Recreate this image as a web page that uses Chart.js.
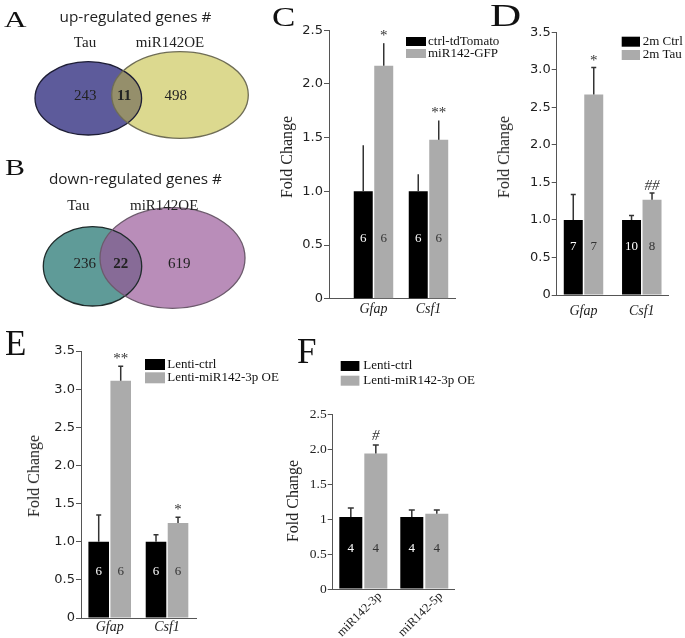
<!DOCTYPE html>
<html>
<head>
<meta charset="utf-8">
<script src="https://cdn.jsdelivr.net/npm/chart.js@4.4.0/dist/chart.umd.min.js"></script>
<style>
  body { margin: 0; background: #fff; }
  #wrap { position: relative; width: 685px; height: 638px; overflow: hidden; }
  canvas { position: absolute; }
  .lt { position: absolute; font-family: 'Liberation Serif'; line-height: 1; transform-origin: 0 0; color: #111; }
  .yt { position: absolute; font: 16px 'Liberation Serif'; white-space: nowrap; color: #222;
        transform: translate(-50%, -50%) rotate(-90deg); }
</style>
</head>
<body>
<div id="wrap">
  <canvas id="vennA" style="left:0;top:0" width="260" height="150"></canvas>
  <canvas id="vennB" style="left:0;top:150px" width="260" height="180"></canvas>
  <canvas id="chartC" style="left:260px;top:0" width="245" height="330"></canvas>
  <canvas id="chartD" style="left:460px;top:0" width="225" height="330"></canvas>
  <canvas id="chartE" style="left:0;top:330px" width="290" height="308"></canvas>
  <canvas id="chartF" style="left:270px;top:330px" width="215" height="308"></canvas>

  <div class="lt" style="left:4px;top:7px;font-size:24px;transform:scaleX(1.3)">A</div>
  <div class="lt" style="left:5px;top:156px;font-size:23px;transform:scaleX(1.3)">B</div>
  <div class="lt" style="left:272px;top:3px;font-size:28px;transform:scaleX(1.25)">C</div>
  <div class="lt" style="left:490px;top:-1px;font-size:32px;transform:scaleX(1.35)">D</div>
  <div class="lt" style="left:5px;top:326px;font-size:35px">E</div>
  <div class="lt" style="left:297px;top:334px;font-size:35px">F</div>

  <div class="yt" style="left:287px;top:157px">Fold Change</div>
  <div class="yt" style="left:504px;top:157px">Fold Change</div>
  <div class="yt" style="left:34px;top:476px">Fold Change</div>
  <div class="yt" style="left:293px;top:501px">Fold Change</div>
</div>
<script>
// A / B: Venn counts, [Tau only, shared, miR142OE only]
const vennSets = ['Tau', 'miR142OE'];
const upCounts = [243, 11, 498];
const downCounts = [236, 22, 619];

// C: astrocyte markers, ctrl-tdTomato vs miR142-GFP
const cGenes = ['Gfap', 'Csf1'];
const cSeries = ['ctrl-tdTomato', 'miR142-GFP'];
const cCtrl = [1.0, 1.0];
const cCtrlErr = [0.43, 0.16];
const cCtrlN = [6, 6];
const cTreat = [2.17, 1.48];
const cTreatErr = [0.21, 0.18];
const cTreatN = [6, 6];
const cSig = ['*', '**'];
const cTicks = [0, 0.5, 1, 1.5, 2, 2.5];
const cTickLabels = ['0', '0.5', '1.0', '1.5', '2.0', '2.5'];

// D: 2m Ctrl vs 2m Tau
const dGenes = ['Gfap', 'Csf1'];
const dSeries = ['2m Ctrl', '2m Tau'];
const dCtrl = [1.0, 1.0];
const dCtrlErr = [0.34, 0.06];
const dCtrlN = [7, 10];
const dTreat = [2.67, 1.27];
const dTreatErr = [0.36, 0.09];
const dTreatN = [7, 8];
const dSig = ['*', '##'];
const dTicks = [0, 0.5, 1, 1.5, 2, 2.5, 3, 3.5];
const dTickLabels = ['0', '0.5', '1.0', '1.5', '2.0', '2.5', '3.0', '3.5'];

// E: Lenti-ctrl vs Lenti-miR142-3p OE
const eGenes = ['Gfap', 'Csf1'];
const eSeries = ['Lenti-ctrl', 'Lenti-miR142-3p OE'];
const eCtrl = [1.0, 1.0];
const eCtrlErr = [0.35, 0.09];
const eCtrlN = [6, 6];
const eTreat = [3.11, 1.245];
const eTreatErr = [0.19, 0.075];
const eTreatN = [6, 6];
const eSig = ['**', '*'];
const eTicks = [0, 0.5, 1, 1.5, 2, 2.5, 3, 3.5];
const eTickLabels = ['0', '0.5', '1.0', '1.5', '2.0', '2.5', '3.0', '3.5'];

// F: miR142 strands
const fGenes = ['miR142-3p', 'miR142-5p'];
const fSeries = ['Lenti-ctrl', 'Lenti-miR142-3p OE'];
const fCtrl = [1.03, 1.03];
const fCtrlErr = [0.13, 0.10];
const fCtrlN = [4, 4];
const fTreat = [1.94, 1.076];
const fTreatErr = [0.12, 0.055];
const fTreatN = [4, 4];
const fSig = ['#', ''];
const fTicks = [0, 0.5, 1, 1.5, 2, 2.5];
const fTickLabels = ['0', '0.5', '1', '1.5', '2.0', '2.5'];

const SERIF = "'Liberation Serif', 'Times New Roman', serif";
const SANS = "'DejaVu Sans', Verdana, sans-serif";

// ---- Venn diagrams ----
const vennDraw = {
  id: 'vennDraw',
  afterDatasetsDraw(chart, args, o) {
    const ctx = chart.ctx;
    const xs = chart.scales.x, ys = chart.scales.y;
    const px = v => xs.getPixelForValue(v);
    const py = v => ys.getPixelForValue(v);
    const ell = e => {
      ctx.beginPath();
      ctx.ellipse(px(e.cx), py(e.cy), Math.abs(px(e.cx + e.rx) - px(e.cx)),
        Math.abs(py(e.cy + e.ry) - py(e.cy)), 0, 0, Math.PI * 2);
    };
    ctx.save();
    ell(o.left); ctx.fillStyle = o.left.fill; ctx.fill();
    ell(o.right); ctx.fillStyle = o.right.fill; ctx.fill();
    ctx.save();
    ell(o.left); ctx.clip();
    ell(o.right); ctx.fillStyle = o.overlap; ctx.fill();
    ctx.restore();
    ctx.lineWidth = 1.3;
    ell(o.left); ctx.strokeStyle = o.left.stroke; ctx.stroke();
    ell(o.right); ctx.strokeStyle = o.right.stroke; ctx.stroke();

    ctx.textAlign = 'center';
    ctx.textBaseline = 'middle';
    ctx.fillStyle = '#222';
    ctx.font = "15.3px 'Open Sans', sans-serif";
    ctx.fillText(o.title, px(o.titleAt[0]), py(o.titleAt[1]));
    ctx.font = '15px ' + SERIF;
    vennSets.forEach((s, i) => ctx.fillText(s, px(o.setAt[i][0]), py(o.setAt[i][1])));
    o.counts.forEach((c, i) => {
      ctx.font = (i === 1 ? 'bold ' : '') + '15px ' + SERIF;
      ctx.fillText(String(c), px(o.countAt[i][0]), py(o.countAt[i][1]));
    });
    ctx.restore();
  }
};

function venn(id, x0, y0, w, h, opts) {
  return new Chart(document.getElementById(id), {
    type: 'scatter',
    data: { datasets: [{ label: opts.title, data: [] }] },
    options: {
      responsive: false, animation: false, events: [],
      layout: { padding: 0 },
      plugins: { legend: { display: false }, tooltip: { enabled: false }, vennDraw: opts },
      scales: {
        x: { display: false, min: x0, max: x0 + w },
        y: { display: false, min: y0, max: y0 + h, reverse: true }
      }
    },
    plugins: [vennDraw]
  });
}

venn('vennA', 0, 0, 260, 150, {
  title: 'up-regulated genes #', titleAt: [135.5, 17.5],
  setAt: [[85, 43.5], [170, 43.5]],
  counts: upCounts, countAt: [[85.3, 96.5], [124.2, 96.5], [175.8, 96.5]],
  left: { cx: 88.3, cy: 98.3, rx: 53.3, ry: 36.7, fill: '#5d5b9b', stroke: '#1d1d35' },
  right: { cx: 180, cy: 95, rx: 68.3, ry: 43.3, fill: '#dcd98f', stroke: '#6f6d55' },
  overlap: '#958f6b'
});

venn('vennB', 0, 150, 260, 180, {
  title: 'down-regulated genes #', titleAt: [135.5, 179.2],
  setAt: [[78.3, 206], [164.2, 206]],
  counts: downCounts, countAt: [[84.7, 264.5], [120.8, 264.5], [179.2, 264.5]],
  left: { cx: 92.5, cy: 266.3, rx: 49.2, ry: 39.7, fill: '#5f9b98', stroke: '#1f2b2b' },
  right: { cx: 172.5, cy: 258, rx: 72.5, ry: 50.3, fill: '#b98db9', stroke: '#6c5a6c' },
  overlap: '#876b97'
});

// ---- bar charts ----
const barExtras = {
  id: 'barExtras',
  afterDatasetsDraw(chart, args, o) {
    const ctx = chart.ctx;
    const ys = chart.scales.y;
    ctx.save();
    chart.data.datasets.forEach((ds, d) => {
      const meta = chart.getDatasetMeta(d);
      meta.data.forEach((bar, i) => {
        const topV = ds.data[i].y + ds.err[i];
        const yTop = ys.getPixelForValue(topV);
        ctx.strokeStyle = '#333';
        ctx.lineWidth = 1.5;
        ctx.beginPath();
        ctx.moveTo(bar.x, bar.y);
        ctx.lineTo(bar.x, yTop);
        ctx.moveTo(bar.x - o.cap, yTop);
        ctx.lineTo(bar.x + o.cap, yTop);
        ctx.stroke();

        ctx.textAlign = 'center';
        ctx.textBaseline = 'middle';
        ctx.font = o.nFont + 'px ' + SERIF;
        ctx.fillStyle = d === 0 ? '#fff' : '#333';
        ctx.fillText(String(ds.n[i]), bar.x, ys.getPixelForValue(o.nAt));

        if (ds.sig && ds.sig[i]) {
          ctx.textBaseline = 'alphabetic';
          ctx.fillStyle = '#333';
          ctx.font = (ds.sig[i].includes('#') ? 'italic ' : '') + '15px ' + SERIF;
          ctx.fillText(ds.sig[i], bar.x, yTop - o.sigGap);
        }
      });
    });

    // legend
    const L = o.legend;
    chart.data.datasets.forEach((ds, d) => {
      const y = L.y + d * L.step;
      ctx.fillStyle = ds.backgroundColor;
      ctx.fillRect(L.x, y, L.w, L.h);
      ctx.fillStyle = '#111';
      ctx.font = '13px ' + SERIF;
      ctx.textAlign = 'left';
      ctx.textBaseline = 'middle';
      ctx.fillText(ds.label, L.textX, y + L.h / 2);
    });
    ctx.restore();
  }
};

function barPanel(id, p) {
  const pts = arr => arr.map((v, i) => ({ x: i + 1, y: v }));
  return new Chart(document.getElementById(id), {
    type: 'bar',
    data: {
      datasets: [
        { label: p.series[0], data: pts(p.ctrl), err: p.ctrlErr, n: p.ctrlN,
          backgroundColor: '#000000' },
        { label: p.series[1], data: pts(p.treat), err: p.treatErr, n: p.treatN, sig: p.sig,
          backgroundColor: '#ababab' }
      ]
    },
    options: {
      responsive: false, animation: false, events: [],
      categoryPercentage: p.catPct, barPercentage: p.barPct,
      layout: { padding: { top: p.top, right: p.right, left: 0, bottom: 0 } },
      plugins: {
        legend: { display: false }, tooltip: { enabled: false },
        barExtras: { cap: p.cap, nAt: p.nAt, nFont: 13, sigGap: p.sigGap, legend: p.legend }
      },
      scales: {
        x: {
          type: 'linear', offset: false, min: p.xMin, max: p.xMax,
          // label anchor may sit a bit right of the group (rotated labels in F)
          afterBuildTicks: s => { s.ticks = p.genes.map((g, i) => ({ value: i + 1 + p.labelShift })); },
          afterFit: s => { s.height = p.xh; },
          grid: { display: false, drawTicks: false },
          border: { color: '#555', width: 1 },
          ticks: {
            autoSkip: false, padding: p.xPad, color: '#222',
            maxRotation: p.rot, minRotation: p.rot,
            font: { family: SERIF, size: p.xFont, style: p.rot ? 'normal' : 'italic' },
            callback: (v, i) => p.genes[i]
          }
        },
        y: {
          min: 0, max: p.ticks[p.ticks.length - 1],
          afterBuildTicks: s => { s.ticks = p.ticks.map(v => ({ value: v })); },
          afterFit: s => { s.width = p.yw; },
          grid: { drawOnChartArea: false, drawTicks: true, tickLength: 5, color: '#555' },
          border: { color: '#555', width: 1 },
          ticks: {
            autoSkip: false, padding: 1, color: '#222',
            font: { family: p.yFamily, size: p.yFont },
            callback: (v, i) => p.tickLabels[i]
          }
        }
      }
    },
    plugins: [barExtras]
  });
}

barPanel('chartC', {
  genes: cGenes, series: cSeries, ctrl: cCtrl, ctrlErr: cCtrlErr, ctrlN: cCtrlN,
  treat: cTreat, treatErr: cTreatErr, treatN: cTreatN, sig: cSig,
  ticks: cTicks, tickLabels: cTickLabels,
  top: 30.3, right: 50, yw: 69, xh: 31.3, xMin: 0.191, xMax: 2.482,
  catPct: 0.745, barPct: 0.927, xPad: 2, xFont: 14, rot: 0, labelShift: 0,
  yFamily: SANS, yFont: 13, cap: 0, nAt: 0.56, sigGap: 3,
  legend: { x: 146, y: 37, w: 20, h: 9, step: 12, textX: 168 }
});

barPanel('chartD', {
  genes: dGenes, series: dSeries, ctrl: dCtrl, ctrlErr: dCtrlErr, ctrlN: dCtrlN,
  treat: dTreat, treatErr: dTreatErr, treatN: dTreatN, sig: dSig,
  ticks: dTicks, tickLabels: dTickLabels,
  top: 32.3, right: 16.7, yw: 96.7, xh: 35, xMin: 0.540, xMax: 2.455,
  catPct: 0.703, barPct: 0.927, xPad: 8, xFont: 14, rot: 0, labelShift: 0,
  yFamily: SANS, yFont: 13, cap: 2.5, nAt: 0.64, sigGap: 3,
  legend: { x: 161.7, y: 36.7, w: 18.3, h: 10, step: 13.3, textX: 182.7 }
});

barPanel('chartE', {
  genes: eGenes, series: eSeries, ctrl: eCtrl, ctrlErr: eCtrlErr, ctrlN: eCtrlN,
  treat: eTreat, treatErr: eTreatErr, treatN: eTreatN, sig: eSig,
  ticks: eTicks, tickLabels: eTickLabels,
  top: 21, right: 93.3, yw: 81, xh: 20, xMin: 0.499, xMax: 2.518,
  catPct: 0.768, barPct: 0.936, xPad: 1, xFont: 14, rot: 0, labelShift: 0,
  yFamily: SANS, yFont: 13, cap: 2.5, nAt: 0.61, sigGap: 3,
  legend: { x: 145, y: 29, w: 20, h: 11, step: 13.3, textX: 167.3 }
});

barPanel('chartF', {
  genes: fGenes, series: fSeries, ctrl: fCtrl, ctrlErr: fCtrlErr, ctrlN: fCtrlN,
  treat: fTreat, treatErr: fTreatErr, treatN: fTreatN, sig: fSig,
  ticks: fTicks, tickLabels: fTickLabels,
  top: 84.3, right: 31, yw: 62.7, xh: 49, xMin: 0.498, xMax: 2.487,
  catPct: 0.82, barPct: 0.92, xPad: 0, xFont: 12.5, rot: 45, labelShift: 0.27,
  yFamily: SERIF, yFont: 13.5, cap: 3, nAt: 0.58, sigGap: 5,
  legend: { x: 70.7, y: 31, w: 18.7, h: 10, step: 14.7, textX: 93.3 }
});
</script>
</body>
</html>
